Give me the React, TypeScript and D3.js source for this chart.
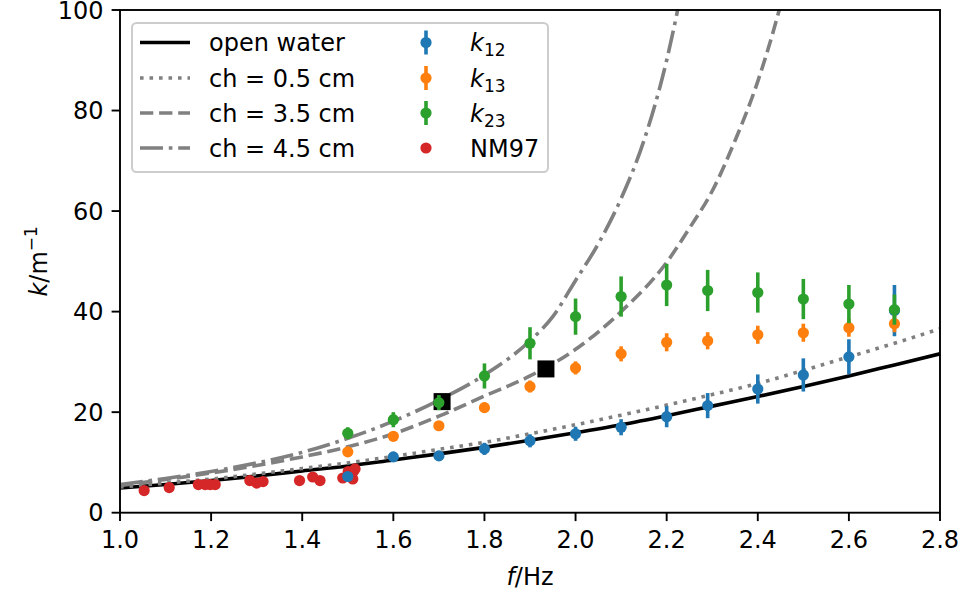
import React from 'react';
import * as d3 from 'd3';

// model curves
const F_MODEL = [1.0, 1.1, 1.2, 1.3, 1.4, 1.5, 1.6, 1.7, 1.8, 1.9, 2.0, 2.1, 2.2, 2.3, 2.4, 2.5, 2.6, 2.7, 2.8];
const K_OPEN = [4.9, 5.6, 6.4, 7.3, 8.3, 9.3, 10.5, 11.7, 13.0, 14.4, 15.9, 17.5, 19.3, 21.2, 23.1, 25.1, 27.2, 29.4, 31.6];
const K_CH05 = [5.1, 5.9, 6.7, 7.7, 8.8, 9.9, 11.2, 12.6, 14.0, 15.7, 17.5, 19.4, 21.4, 23.5, 25.7, 28.3, 31.0, 33.7, 36.6];

const F_CH35 = [1.0, 1.1, 1.2, 1.3, 1.4, 1.5, 1.6, 1.7, 1.8, 1.9, 2.0, 2.1, 2.2, 2.25, 2.3, 2.35, 2.4, 2.45, 2.5];
const K_CH35 = [5.4, 6.6, 7.9, 9.4, 11.1, 13.1, 15.7, 19.2, 23.2, 27.2, 32.5, 40.0, 49.8, 56.6, 64.0, 74.0, 85.8, 101, 120];

const F_CH45 = [1.0, 1.1, 1.2, 1.3, 1.4, 1.5, 1.6, 1.7, 1.8, 1.9, 1.95, 2.0, 2.05, 2.1, 2.15, 2.2, 2.25];
const K_CH45 = [5.6, 6.8, 8.2, 9.9, 12.0, 14.8, 18.2, 22.4, 27.4, 34.2, 39.0, 46.2, 53.5, 62.5, 74.0, 90.0, 112];

// measurements
const F_MEAS = [1.5, 1.6, 1.7, 1.8, 1.9, 2.0, 2.1, 2.2, 2.29, 2.4, 2.5, 2.6, 2.7];
const K12 = [7.2, 11.1, 11.3, 12.7, 14.3, 15.7, 17.0, 19.1, 21.3, 24.6, 27.4, 31.0, 40.2];
const K12_ERR = [0.5, 1.0, 1.0, 1.2, 1.3, 1.4, 1.6, 2.1, 2.5, 2.9, 3.3, 3.5, 5.1];
const K13 = [12.1, 15.2, 17.3, 20.9, 25.1, 28.8, 31.6, 33.9, 34.2, 35.4, 35.8, 36.8, 37.6];
const K13_ERR = [0.7, 0.8, 0.9, 1.0, 1.2, 1.3, 1.5, 1.8, 1.7, 1.8, 1.8, 1.8, 1.7];
const K23 = [15.8, 18.5, 21.9, 27.2, 33.7, 39.0, 43.0, 45.3, 44.2, 43.8, 42.5, 41.5, 40.4];
const K23_ERR = [1.2, 1.5, 1.5, 2.5, 3.2, 3.6, 4.0, 4.2, 4.1, 4.0, 4.0, 3.8, 3.0];

const NM97_F = [1.053, 1.108, 1.172, 1.187, 1.198, 1.209, 1.285, 1.300, 1.314, 1.394, 1.423, 1.439, 1.489, 1.501, 1.512, 1.511, 1.516];
const NM97_K = [4.4, 5.0, 5.6, 5.6, 5.6, 5.6, 6.4, 5.9, 6.2, 6.4, 7.1, 6.4, 6.9, 8.2, 8.2, 6.7, 8.7];

const SQ_F = [1.707, 1.935];
const SQ_K = [22.1, 28.6];

const X_TICKS = [1.0, 1.2, 1.4, 1.6, 1.8, 2.0, 2.2, 2.4, 2.6, 2.8];
const Y_TICKS = [0, 20, 40, 60, 80, 100];

const BLUE = '#1f77b4';
const ORANGE = '#ff7f0e';
const GREEN = '#2ca02c';
const RED = '#d62728';
const GRAY = '#808080';
const FONT = 'DejaVu Sans, sans-serif';

export default function App() {
  const x = d3.scaleLinear().domain([1.0, 2.8]).range([120, 940]);
  const y = d3.scaleLinear().domain([0, 100]).range([512.7, 10]);
  const line = d3.line<[number, number]>()
    .x(d => x(d[0]))
    .y(d => y(d[1]))
    .curve(d3.curveMonotoneX);

  const zip = (a: number[], b: number[]) => a.map((v, i) => [v, b[i]] as [number, number]);

  const curves = [
    { f: F_MODEL, k: K_OPEN, color: '#000', dash: undefined },
    { f: F_MODEL, k: K_CH05, color: GRAY, dash: '3.6,5.9' },
    { f: F_CH35, k: K_CH35, color: GRAY, dash: '13.3,5.8' },
    { f: F_CH45, k: K_CH45, color: GRAY, dash: '23,5.8,3.6,5.8' },
  ];

  const series = [
    { k: K12, err: K12_ERR, color: BLUE },
    { k: K13, err: K13_ERR, color: ORANGE },
    { k: K23, err: K23_ERR, color: GREEN },
  ];

  const [x0, x1] = x.range();
  const [yb, yt] = y.range();

  const legendLines = [
    { label: 'open water', color: '#000', dash: undefined },
    { label: 'ch = 0.5 cm', color: GRAY, dash: '3.6,5.9' },
    { label: 'ch = 3.5 cm', color: GRAY, dash: '13.3,5.8' },
    { label: 'ch = 4.5 cm', color: GRAY, dash: '23,5.8,3.6,5.8' },
  ];
  const legendRows = [42.5, 78, 113, 148];
  const legendMarks = [
    { sub: '12', color: BLUE },
    { sub: '13', color: ORANGE },
    { sub: '23', color: GREEN },
  ];

  return (
    <div style={{ position: 'absolute', left: 0, top: 0 }}>
      <svg width={964} height={596} style={{ display: 'block', background: '#fff' }} fontFamily={FONT}>
        <defs>
          <clipPath id="plot">
            <rect x={x0} y={yt} width={x1 - x0} height={yb - yt} />
          </clipPath>
        </defs>

        <g clipPath="url(#plot)">
          {curves.map((c, i) => (
            <path key={i} d={line(zip(c.f, c.k)) || ''} fill="none" stroke={c.color}
              strokeWidth={3.6} strokeDasharray={c.dash} />
          ))}

          {NM97_F.map((f, i) => (
            <circle key={'nm' + i} cx={x(f)} cy={y(NM97_K[i])} r={5.6} fill={RED} />
          ))}

          {SQ_F.map((f, i) => (
            <rect key={'sq' + i} x={x(f) - 8.5} y={y(SQ_K[i]) - 8.5} width={17} height={17} fill="#000" />
          ))}

          {series.map((s, si) => (
            <g key={'s' + si}>
              {F_MEAS.map((f, i) => (
                <g key={i}>
                  <line x1={x(f)} x2={x(f)} y1={y(s.k[i] - s.err[i])} y2={y(s.k[i] + s.err[i])}
                    stroke={s.color} strokeWidth={3.6} />
                  <circle cx={x(f)} cy={y(s.k[i])} r={5.6} fill={s.color} />
                </g>
              ))}
            </g>
          ))}
        </g>

        {/* axes frame */}
        <rect x={x0} y={yt} width={x1 - x0} height={yb - yt} fill="none" stroke="#000" strokeWidth={1.9} />

        {X_TICKS.map(t => (
          <g key={'xt' + t}>
            <line x1={x(t)} x2={x(t)} y1={yb} y2={yb + 8.4} stroke="#000" strokeWidth={1.9} />
            <text x={x(t)} y={547.5} fontSize={24} textAnchor="middle">{t.toFixed(1)}</text>
          </g>
        ))}
        {Y_TICKS.map(t => (
          <g key={'yt' + t}>
            <line x1={x0 - 8.4} x2={x0} y1={y(t)} y2={y(t)} stroke="#000" strokeWidth={1.9} />
            <text x={x0 - 16.5} y={y(t) + 8.7} fontSize={24} textAnchor="end">{t}</text>
          </g>
        ))}

        <text x={(x0 + x1) / 2} y={585} fontSize={24} textAnchor="middle">
          <tspan fontStyle="italic">f</tspan>/Hz
        </text>
        <text transform={`translate(47, ${(yb + yt) / 2}) rotate(-90)`} fontSize={24} textAnchor="middle">
          <tspan fontStyle="italic">k</tspan>/m<tspan fontSize={17} dy={-10}>−1</tspan>
        </text>

        {/* legend */}
        <rect x={132} y={23} width={416} height={149} rx={4.5} fill="#fff" fillOpacity={0.8}
          stroke="#cccccc" strokeWidth={2} />
        {legendLines.map((l, i) => (
          <g key={'ll' + i}>
            <line x1={140} x2={190} y1={legendRows[i]} y2={legendRows[i]} stroke={l.color}
              strokeWidth={3.6} strokeDasharray={l.dash} />
            <text x={209} y={legendRows[i] + 8.5} fontSize={24}>{l.label}</text>
          </g>
        ))}
        {legendMarks.map((m, i) => (
          <g key={'lm' + i}>
            <line x1={426} x2={426} y1={legendRows[i] - 12} y2={legendRows[i] + 12} stroke={m.color} strokeWidth={3.6} />
            <circle cx={426} cy={legendRows[i]} r={5.6} fill={m.color} />
            <text x={470} y={legendRows[i] + 8.5} fontSize={24}>
              <tspan fontStyle="italic">k</tspan>
              <tspan fontSize={17} dy={5}>{m.sub}</tspan>
            </text>
          </g>
        ))}
        <circle cx={426} cy={legendRows[3]} r={5.6} fill={RED} />
        <text x={470} y={legendRows[3] + 8.5} fontSize={24}>NM97</text>
      </svg>
    </div>
  );
}
